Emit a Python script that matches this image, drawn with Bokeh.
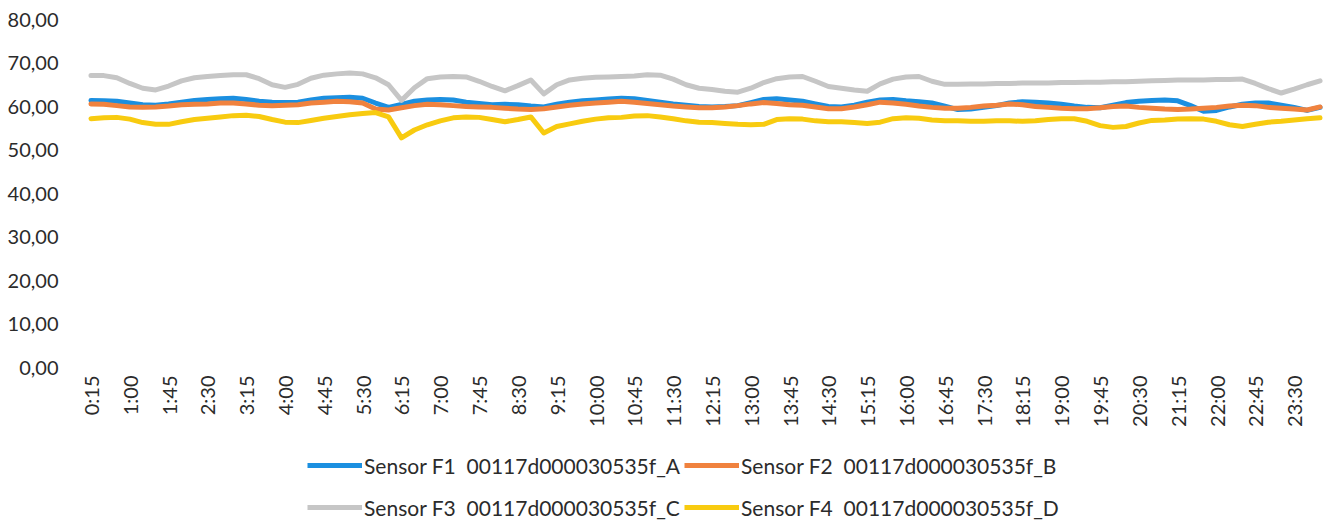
from math import pi
from bokeh.plotting import figure
from bokeh.layouts import column
from bokeh.models import Range1d, FixedTicker, Legend, LegendItem
from bokeh.embed import file_html
from bokeh.resources import INLINE

# Categories: 15-minute readings from 0:15 to 24:00
times = [f"{(15 * k) // 60}:{(15 * k) % 60:02d}" for k in range(1, 97)]

sensor_f1 = [61.4, 61.3, 61.2, 60.8, 60.4, 60.3, 60.6, 61.0, 61.4, 61.6,
             61.8, 61.9, 61.6, 61.2, 61.0, 60.9, 61.0, 61.5, 61.9, 62.0,
             62.1, 61.9, 60.8, 59.8, 60.5, 61.2, 61.5, 61.6, 61.5, 61.0,
             60.7, 60.4, 60.5, 60.4, 60.1, 59.9, 60.5, 61.0, 61.3, 61.5,
             61.7, 61.9, 61.8, 61.4, 61.0, 60.6, 60.3, 60.0, 59.9, 60.0,
             60.2, 60.9, 61.6, 61.8, 61.5, 61.2, 60.6, 60.0, 59.9, 60.3,
             61.0, 61.5, 61.6, 61.3, 61.1, 60.8, 60.1, 59.3, 59.4, 59.8,
             60.2, 60.8, 61.1, 61.0, 60.8, 60.5, 60.1, 59.8, 59.7, 60.3,
             60.9, 61.2, 61.4, 61.5, 61.3, 60.2, 58.9, 59.1, 59.9, 60.5,
             60.8, 60.8, 60.3, 59.8, 59.1, 59.8]

sensor_f2 = [60.6, 60.5, 60.2, 59.9, 59.8, 59.9, 60.1, 60.4, 60.5, 60.6,
             60.8, 60.8, 60.6, 60.3, 60.2, 60.3, 60.4, 60.8, 61.0, 61.2,
             61.1, 60.8, 59.4, 59.2, 59.7, 60.2, 60.5, 60.4, 60.2, 60.0,
             59.9, 59.8, 59.6, 59.4, 59.3, 59.5, 59.9, 60.3, 60.6, 60.8,
             61.0, 61.2, 61.0, 60.7, 60.4, 60.1, 59.9, 59.7, 59.7, 59.9,
             60.2, 60.6, 60.9, 60.7, 60.4, 60.3, 59.9, 59.5, 59.5, 59.9,
             60.4, 61.0, 60.8, 60.5, 60.1, 59.8, 59.6, 59.6, 59.8, 60.1,
             60.3, 60.6, 60.4, 60.0, 59.8, 59.6, 59.5, 59.5, 59.7, 60.0,
             60.1, 59.8, 59.6, 59.4, 59.3, 59.4, 59.6, 59.8, 60.1, 60.3,
             60.2, 59.8, 59.6, 59.4, 59.2, 59.9]

sensor_f3 = [67.1, 67.1, 66.6, 65.3, 64.2, 63.8, 64.7, 65.9, 66.6, 66.9,
             67.1, 67.3, 67.3, 66.4, 65.0, 64.4, 65.1, 66.5, 67.2, 67.5,
             67.7, 67.5, 66.6, 65.0, 61.4, 64.3, 66.4, 66.8, 66.9, 66.8,
             65.8, 64.6, 63.6, 64.8, 66.1, 62.9, 65.0, 66.1, 66.5, 66.7,
             66.8, 66.9, 67.0, 67.3, 67.2, 66.3, 65.0, 64.2, 63.9, 63.5,
             63.3, 64.2, 65.5, 66.4, 66.8, 66.9, 65.8, 64.6, 64.2, 63.8,
             63.5, 65.2, 66.3, 66.8, 66.9, 65.8, 65.1, 65.1, 65.2, 65.2,
             65.3, 65.3, 65.4, 65.4, 65.4, 65.5, 65.5, 65.6, 65.6, 65.7,
             65.7, 65.8, 65.9, 66.0, 66.1, 66.1, 66.1, 66.2, 66.2, 66.3,
             65.3, 64.1, 63.1, 64.0, 65.0, 65.9]

sensor_f4 = [57.2, 57.4, 57.5, 57.1, 56.3, 55.9, 55.9, 56.5, 57.0, 57.3,
             57.6, 57.9, 58.0, 57.7, 57.0, 56.4, 56.3, 56.8, 57.3, 57.7,
             58.1, 58.4, 58.6, 57.6, 52.8, 54.6, 55.8, 56.7, 57.4, 57.6,
             57.5, 57.0, 56.5, 57.0, 57.6, 53.9, 55.4, 56.0, 56.6, 57.1,
             57.4, 57.5, 57.8, 57.9, 57.6, 57.2, 56.7, 56.4, 56.3, 56.1,
             55.9, 55.8, 55.9, 57.0, 57.2, 57.1, 56.7, 56.5, 56.5, 56.3,
             56.1, 56.4, 57.2, 57.4, 57.3, 56.9, 56.7, 56.7, 56.6, 56.6,
             56.7, 56.7, 56.6, 56.7, 57.0, 57.2, 57.2, 56.6, 55.6, 55.2,
             55.4, 56.2, 56.8, 56.9, 57.1, 57.2, 57.1, 56.6, 55.8, 55.4,
             55.9, 56.4, 56.6, 56.9, 57.2, 57.4]

series_names = ["Sensor F1  00117d000030535f_A", "Sensor F2  00117d000030535f_B",
                "Sensor F3  00117d000030535f_C", "Sensor F4  00117d000030535f_D"]
series_colors = ["#1b8fe0", "#f0823e", "#c6c6c6", "#f8cb10"]
series_values = [sensor_f1, sensor_f2, sensor_f3, sensor_f4]

y_ticks = [0, 10, 20, 30, 40, 50, 60, 70, 80]
y_labels = ["0,00", "10,00", "20,00", "30,00", "40,00", "50,00", "60,00", "70,00", "80,00"]
x_ticks = list(range(0, len(times), 3))

FONT = "Lato"
TEXT = "#2b2b2b"
LW = 5

# ---- main chart ----
p = figure(width=1326, height=430, output_backend="svg", toolbar_location=None,
           x_range=Range1d(-0.5, 95.5), y_range=Range1d(0, 80),
           min_border_left=84, min_border_right=0, min_border_top=19,
           min_border_bottom=63)
p.outline_line_color = None
p.grid.visible = False

xs = list(range(len(times)))
for vals, col in zip(series_values, series_colors):
    p.line(xs, vals, line_color=col, line_width=LW, line_join="round", line_cap="round")

p.yaxis.ticker = FixedTicker(ticks=y_ticks)
p.yaxis.major_label_overrides = {t: l for t, l in zip(y_ticks, y_labels)}
p.xaxis.ticker = FixedTicker(ticks=x_ticks)
p.xaxis.major_label_overrides = {i: times[i] for i in x_ticks}
p.xaxis.major_label_orientation = pi / 2

for ax in (p.xaxis, p.yaxis):
    ax.axis_line_color = None
    ax.major_tick_line_color = None
    ax.minor_tick_line_color = None
    ax.major_tick_out = 0
    ax.major_tick_in = 0
    ax.major_label_text_font = FONT
    ax.major_label_text_color = TEXT
p.yaxis.major_label_text_font_size = "20px"
p.yaxis.major_label_standoff = 26
p.xaxis.major_label_text_font_size = "20px"
p.xaxis.major_label_standoff = 8

# ---- legend strip below the chart (its series lie outside its view) ----
leg = figure(width=1326, height=91, output_backend="svg", toolbar_location=None,
             x_range=Range1d(-0.5, 95.5), y_range=Range1d(0, 1),
             x_axis_location=None, y_axis_location=None, min_border=0)
leg.outline_line_color = None
leg.grid.visible = False
items = []
for name, vals, col in zip(series_names, series_values, series_colors):
    r = leg.line(xs, vals, line_color=col, line_width=LW)
    items.append(LegendItem(label=name, renderers=[r]))

legend = Legend(items=items, orientation="horizontal", ncols=2,
                location=(223, -5),
                glyph_width=55, glyph_height=20, label_standoff=2, spacing=4,
                label_height=38, padding=0, margin=0,
                border_line_color=None, background_fill_alpha=0,
                label_text_font=FONT, label_text_font_size="21px",
                label_text_color=TEXT)
leg.add_layout(legend, "center")

open("out.html", "w").write(file_html(column(p, leg, spacing=0), INLINE))
